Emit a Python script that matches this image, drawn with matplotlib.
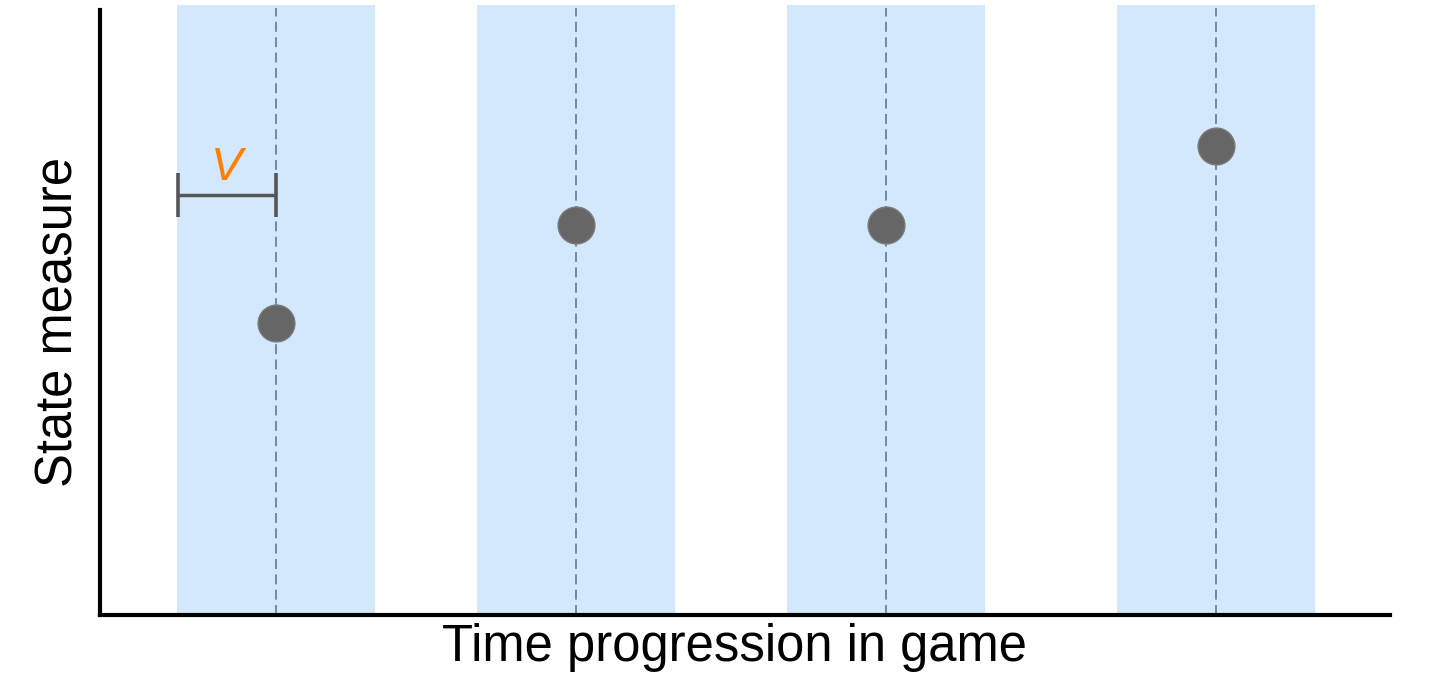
import matplotlib
matplotlib.use("Agg")
import matplotlib.pyplot as plt

# Data
stage_x = [1.76, 4.76, 7.86, 11.16]
state_y = [2.92, 3.90, 3.90, 4.69]
band_halfwidth = 0.99
v_bar_y = 4.20
v_bar_left = 0.78
v_label = "V"
xlabel = "Time progression in game"
ylabel = "State measure"

W, H = 1440, 680
fig = plt.figure(figsize=(W / 100, H / 100), dpi=100)
ax_left, ax_right, ax_top, ax_bottom = 100, 1390, 5, 615
ax = fig.add_axes([ax_left / W, (H - ax_bottom) / H, (ax_right - ax_left) / W, (ax_bottom - ax_top) / H])
ax.set_xlim(0, 12.90)
ax.set_ylim(0, 6.10)

for x in stage_x:
    ax.axvspan(x - band_halfwidth, x + band_halfwidth, ymin=0, ymax=1, color="#d4e8fd", lw=0, zorder=0)
    ax.axvline(x, ymin=0, ymax=6.07 / 6.10, color="#6e8196", lw=1.3, ls=(0, (5.5, 3)), zorder=1)

ax.plot(stage_x, state_y, ls="none", marker="o", ms=26.5, mfc="#666666", mec="#7a7a7a", mew=1.0, zorder=3)

# V bar
ax.errorbar([(v_bar_left + stage_x[0]) / 2], [v_bar_y], xerr=[[(stage_x[0] - v_bar_left) / 2]],
            fmt="none", ecolor="#555555", elinewidth=2.5, capsize=15.5, capthick=2.6, zorder=4)
ax.text((v_bar_left + stage_x[0]) / 2, v_bar_y + 0.05, v_label, color="#ff8000", fontsize=34,
        fontstyle="italic", family="Liberation Sans", ha="center", va="bottom", zorder=5)

for s in ["top", "right"]:
    ax.spines[s].set_visible(False)
ax.spines["left"].set_linewidth(3)
ax.spines["bottom"].set_linewidth(3)
ax.spines["left"].set_bounds(0, 6.05)
ax.set_xticks([])
ax.set_yticks([])
ax.patch.set_alpha(0)

ax.set_xlabel(xlabel, fontsize=36.5, family="Liberation Sans", labelpad=6, x=0.4915)
ax.set_ylabel(ylabel, fontsize=36.5, family="Liberation Sans", labelpad=12, y=0.480)

fig.savefig("out.png", dpi=100)
